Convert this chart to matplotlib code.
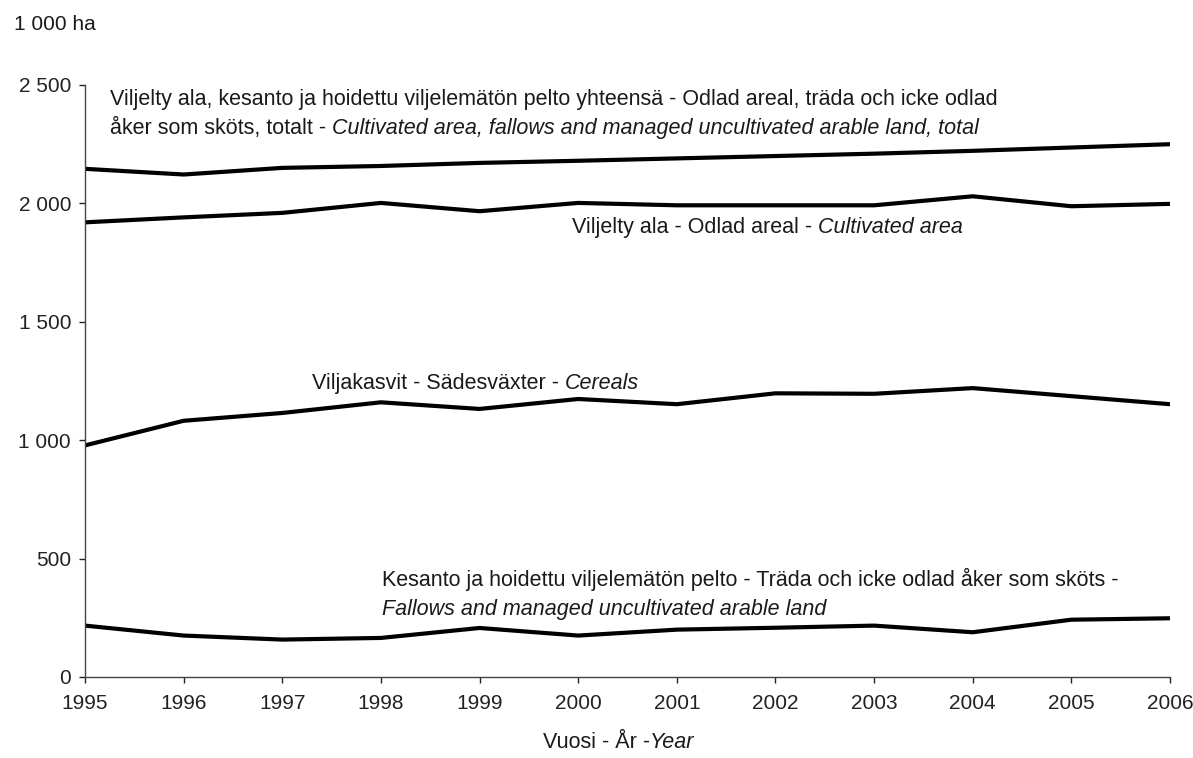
import matplotlib
matplotlib.use("Agg")
import matplotlib.pyplot as plt

plt.rcParams['font.family'] = ['Liberation Sans', 'DejaVu Sans']

# data, 1 000 ha
years = list(range(1995, 2007))
total = [2146, 2122, 2150, 2158, 2171, 2180, 2190, 2200, 2210, 2222, 2236, 2250]
cultivated = [1920, 1941, 1960, 2002, 1967, 2002, 1992, 1992, 1992, 2030, 1988, 1998]
cereals = [978, 1082, 1115, 1160, 1132, 1174, 1152, 1198, 1196, 1220, 1186, 1152]
fallows = [217, 175, 158, 165, 207, 175, 200, 208, 217, 189, 242, 248]

yticks = [0, 500, 1000, 1500, 2000, 2500]
ytick_labels = ['0', '500', '1 000', '1 500', '2 000', '2 500']

W, H = 1193, 758
fig = plt.figure(figsize=(W / 100, H / 100), dpi=100)
ax = fig.add_axes([85 / W, 1 - 677 / H, (1170 - 85) / W, (677 - 85) / H])

for s in [total, cultivated, cereals, fallows]:
    ax.plot(years, s, color='black', lw=3, solid_joinstyle='miter')

ax.set_xlim(1995, 2006)
ax.set_ylim(0, 2500)
ax.set_xticks(years)
ax.set_xticklabels([str(y) for y in years])
ax.set_yticks(yticks)
ax.set_yticklabels(ytick_labels)
for side in ['top', 'right']:
    ax.spines[side].set_visible(False)
for side in ['left', 'bottom']:
    ax.spines[side].set_color('#444444')
    ax.spines[side].set_linewidth(1)
ax.tick_params(axis='both', labelsize=15, colors='#222222', length=4, width=1, direction='out')
ax.tick_params(axis='x', pad=8)
ax.tick_params(axis='y', pad=6)

fs = 15.5
tc = '#1a1a1a'


def mixed(x, y, parts):
    # parts: list of (text, style) chained on one baseline
    t = ax.text(x, y, parts[0][0], style=parts[0][1], fontsize=fs, color=tc,
                ha='left', va='center')
    for txt, st in parts[1:]:
        t = ax.annotate(txt, xy=(1, 0), xycoords=t, style=st, fontsize=fs,
                        color=tc, ha='left', va='bottom')
    return t


mixed(1995.25, 2439, [("Viljelty ala, kesanto ja hoidettu viljelemätön pelto yhteensä - Odlad areal, träda och icke odlad", 'normal')])
mixed(1995.25, 2316, [("åker som sköts, totalt - ", 'normal'),
                      ("Cultivated area, fallows and managed uncultivated arable land, total", 'italic')])
mixed(1999.94, 1898, [("Viljelty ala - Odlad areal - ", 'normal'), ("Cultivated area", 'italic')])
mixed(1997.30, 1238, [("Viljakasvit - Sädesväxter - ", 'normal'), ("Cereals", 'italic')])
mixed(1998.01, 410, [("Kesanto ja hoidettu viljelemätön pelto - Träda och icke odlad åker som sköts -", 'normal')])
mixed(1998.01, 287, [("Fallows and managed uncultivated arable land", 'italic')])

fig.text(14 / W, 1 - 24 / H, "1 000 ha", fontsize=15, color=tc, ha='left', va='center')
t = fig.text(543 / W, 1 - 742 / H, "Vuosi - År -", fontsize=fs, color=tc, ha='left', va='center')
ax.annotate("Year", xy=(1, 0), xycoords=t, style='italic', fontsize=fs,
            color=tc, ha='left', va='bottom', annotation_clip=False)

fig.savefig("out.png", dpi=100, facecolor='white')
